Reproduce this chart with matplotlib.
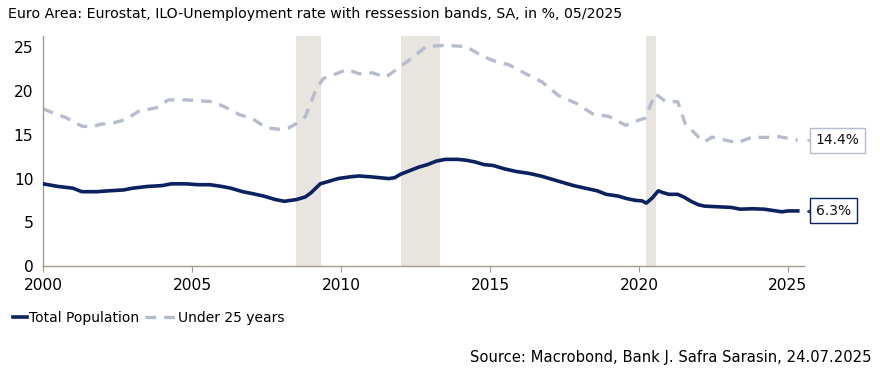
import matplotlib
matplotlib.use("Agg")
import matplotlib.pyplot as plt
import matplotlib.transforms as mtransforms

plt.rcParams['font.family'] = ['DejaVu Sans']
FS = 10

title = "Euro Area: Eurostat, ILO-Unemployment rate with ressession bands, SA, in %, 05/2025"
source = "Source: Macrobond, Bank J. Safra Sarasin, 24.07.2025"

total_years = [2000.0, 2000.5, 2001.0, 2001.3, 2001.8, 2002.2, 2002.7, 2003.0, 2003.5, 2004.0,
               2004.3, 2004.8, 2005.2, 2005.6, 2006.0, 2006.3, 2006.7, 2007.0, 2007.4, 2007.8,
               2008.1, 2008.5, 2008.8, 2009.0, 2009.3, 2009.6, 2009.9, 2010.3, 2010.6, 2011.0,
               2011.3, 2011.6, 2011.8, 2012.0, 2012.3, 2012.6, 2012.9, 2013.2, 2013.5, 2013.9,
               2014.2, 2014.5, 2014.8, 2015.1, 2015.5, 2015.9, 2016.3, 2016.7, 2017.0, 2017.4,
               2017.8, 2018.2, 2018.6, 2018.9, 2019.3, 2019.6, 2019.9, 2020.1, 2020.25, 2020.45,
               2020.65, 2020.8, 2021.0, 2021.3, 2021.5, 2021.75, 2022.0, 2022.2, 2022.5, 2022.8,
               2023.1, 2023.4, 2023.8, 2024.2, 2024.5, 2024.8, 2025.0, 2025.33]
total_values = [9.4, 9.1, 8.9, 8.5, 8.5, 8.6, 8.7, 8.9, 9.1, 9.2,
                9.4, 9.4, 9.3, 9.3, 9.1, 8.9, 8.5, 8.3, 8.0, 7.6,
                7.4, 7.6, 7.9, 8.4, 9.4, 9.7, 10.0, 10.2, 10.3, 10.2,
                10.1, 10.0, 10.1, 10.5, 10.9, 11.3, 11.6, 12.0, 12.2, 12.2,
                12.1, 11.9, 11.6, 11.5, 11.1, 10.8, 10.6, 10.3, 10.0, 9.6,
                9.2, 8.9, 8.6, 8.2, 8.0, 7.7, 7.5, 7.45, 7.2, 7.8,
                8.6, 8.4, 8.2, 8.2, 7.9, 7.4, 7.0, 6.85, 6.8, 6.75,
                6.7, 6.5, 6.55, 6.5, 6.35, 6.2, 6.3, 6.3]

youth_years = [2000.0, 2000.4, 2000.75, 2001.3, 2001.65, 2001.9, 2002.4, 2002.8, 2003.2, 2003.8,
               2004.2, 2004.8, 2005.25, 2005.7, 2006.1, 2006.6, 2007.0, 2007.5, 2007.9, 2008.25,
               2008.6, 2008.8, 2009.15, 2009.4, 2009.7, 2010.2, 2010.6, 2011.05, 2011.5, 2011.95,
               2012.4, 2012.85, 2013.5, 2014.2, 2014.7, 2015.1, 2015.65, 2016.2, 2016.75, 2017.3,
               2017.9, 2018.45, 2019.0, 2019.55, 2020.0, 2020.2, 2020.55, 2020.9, 2021.3, 2021.55,
               2022.0, 2022.2, 2022.45, 2022.9, 2023.3, 2023.8, 2024.2, 2024.7, 2025.0, 2025.33]
youth_values = [18.0, 17.4, 17.0, 16.0, 15.9, 16.2, 16.4, 16.8, 17.7, 18.1,
                19.0, 19.0, 18.9, 18.8, 18.2, 17.3, 16.9, 15.8, 15.65, 15.8,
                16.5, 17.1, 20.1, 21.45, 21.8, 22.5, 22.0, 22.1, 21.6, 22.7,
                23.85, 25.1, 25.25, 25.1, 24.1, 23.5, 23.0, 22.0, 21.05, 19.5,
                18.6, 17.4, 17.1, 16.1, 16.7, 16.9, 19.7, 18.8, 18.8, 16.3,
                14.75, 14.2, 14.75, 14.4, 14.1, 14.75, 14.7, 14.8, 14.6, 14.4]

recession_starts = [2008.5, 2012.0, 2020.25]
recession_ends = [2009.33, 2013.33, 2020.58]

x_ticks = [2000, 2005, 2010, 2015, 2020, 2025]
y_ticks = [0, 5, 10, 15, 20, 25]

navy = "#0b2260"
grey = "#b5bccd"
band = "#e8e4df"
spine = "#a8998a"

fig = plt.figure(figsize=(8.8, 3.8), dpi=100)
ax = fig.add_axes([0.049, 0.30, 0.865, 0.605])

for s, e in zip(recession_starts, recession_ends):
    ax.axvspan(s, e, color=band, lw=0, zorder=0)

youth_line, = ax.plot(youth_years, youth_values, color=grey, lw=2.4, dashes=(3.2, 2.4),
                      label="Under 25 years", zorder=2)
total_line, = ax.plot(total_years, total_values, color=navy, lw=2.6,
                      label="Total Population", zorder=3)

ax.set_xlim(2000, 2025.55)
ax.set_ylim(0, 26.3)
ax.set_xticks(x_ticks)
ax.set_yticks(y_ticks)
ax.tick_params(axis='x', length=4, color=spine, labelsize=11.2, pad=5)
ax.tick_params(axis='y', length=0, labelsize=11.2, pad=7)
for side in ['top', 'right']:
    ax.spines[side].set_visible(False)
for side in ['left', 'bottom']:
    ax.spines[side].set_color(spine)
    ax.spines[side].set_linewidth(1.0)


def end_label(xs, ys, edge):
    x, y = xs[-1], ys[-1]
    ax.annotate(f"{y:.1f}%", xy=(x, y), xytext=(13, 0), textcoords='offset points',
                ha='left', va='center', fontsize=FS, color='#111111', zorder=6,
                bbox=dict(boxstyle='square,pad=0.4', fc='white', ec=edge, lw=1.0),
                annotation_clip=False)
    tr = mtransforms.offset_copy(ax.transData, fig=fig, x=9.3, y=0, units='points')
    ax.plot([x], [y], marker='<', ms=6, mfc='white', mec=edge, mew=1.0,
            transform=tr, zorder=5, clip_on=False)


end_label(youth_years, youth_values, grey)
end_label(total_years, total_values, navy)

fig.text(0.009, 0.962, title, fontsize=FS + 0.15, ha='left', va='center')
fig.text(0.99, 0.06, source, fontsize=10.6, ha='right', va='center')

leg1 = fig.legend([total_line], ["Total Population"], loc='center left',
                  bbox_to_anchor=(13 / 880, 0.163), frameon=False, fontsize=FS,
                  handlelength=1.0, handletextpad=0.15, borderpad=0, borderaxespad=0)
leg2 = fig.legend([youth_line], ["Under 25 years"], loc='center left',
                  bbox_to_anchor=(145 / 880, 0.163), frameon=False, fontsize=FS,
                  handlelength=2.2, handletextpad=0.15, borderpad=0, borderaxespad=0)

fig.savefig("out.png", dpi=100)
